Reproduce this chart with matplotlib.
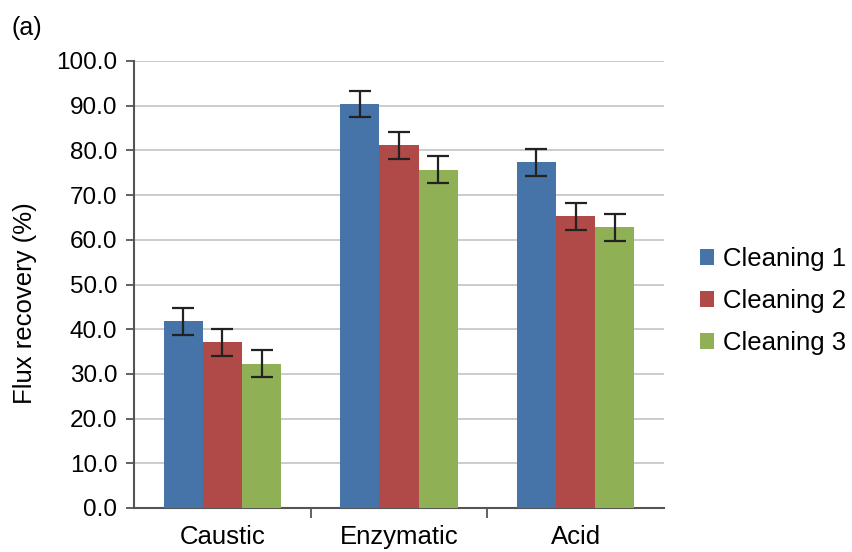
import matplotlib
matplotlib.use("Agg")
import matplotlib.pyplot as plt
import numpy as np
from matplotlib.patches import Patch

categories = ["Caustic", "Enzymatic", "Acid"]
series_names = ["Cleaning 1", "Cleaning 2", "Cleaning 3"]
cleaning1 = [41.8, 90.4, 77.3]
cleaning2 = [37.1, 81.1, 65.3]
cleaning3 = [32.3, 75.7, 62.8]
err1 = [3.0, 3.0, 3.0]
err2 = [3.0, 3.0, 3.0]
err3 = [3.0, 3.0, 3.0]
yticks = [0, 10, 20, 30, 40, 50, 60, 70, 80, 90, 100]
colors = ["#4674a8", "#b04a48", "#8fb055"]

plt.rcParams['font.family'] = ['Liberation Sans', 'DejaVu Sans']

fig = plt.figure(figsize=(8.53, 5.52), dpi=100)
ax = fig.add_axes([134/853, 1-508/552, (664-134)/853, (508-61)/552])

x = np.arange(len(categories))
w = 0.222
data = [cleaning1, cleaning2, cleaning3]
errs = [err1, err2, err3]
for i, (vals, e, c) in enumerate(zip(data, errs, colors)):
    ax.bar(x + (i - 1) * w, vals, width=w, color=c, zorder=3,
           yerr=e, capsize=8, error_kw=dict(ecolor="#222222", elinewidth=1.6, capthick=1.6, zorder=4))

ax.set_xlim(-0.5, len(categories) - 0.5)
ax.set_ylim(0, 100)
ax.set_yticks(yticks)
ax.set_yticklabels([f"{v:.1f}" for v in yticks], fontsize=17.5)
ax.set_xticks(x)
ax.set_xticklabels(categories, fontsize=18.5)
ax.tick_params(axis='x', length=0, pad=12)
ax.tick_params(axis='y', length=6, width=1.3, color="#555555", pad=6, direction='out')
# category boundary ticks
ax.set_xticks([0.5, 1.5], minor=True)
ax.tick_params(axis='x', which='minor', length=7, width=1.3, color="#555555", direction='out')

ax.yaxis.grid(True, color="#c8c8c8", linewidth=1.3, zorder=0)
ax.set_axisbelow(True)
for s in ["top", "right"]:
    ax.spines[s].set_visible(False)
ax.spines["left"].set_color("#555555")
ax.spines["left"].set_linewidth(1.5)
ax.spines["bottom"].set_color("#555555")
ax.spines["bottom"].set_linewidth(1.5)

ax.set_ylabel("Flux recovery (%)", fontsize=18.5)
ax.yaxis.set_label_coords(-0.183, 0.458)

handles = [Patch(facecolor=c, label=n) for c, n in zip(colors, series_names)]
fig.legend(handles=handles, loc="center left", bbox_to_anchor=(700/853, 1-301/552),
           frameon=False, fontsize=18.5, handlelength=0.55, handleheight=0.55,
           handletextpad=0.35, labelspacing=0.7, borderaxespad=0, borderpad=0)

fig.text(12/853, 1-28/552, "(a)", fontsize=18, va="center", ha="left")

fig.savefig("out.png", dpi=100)
